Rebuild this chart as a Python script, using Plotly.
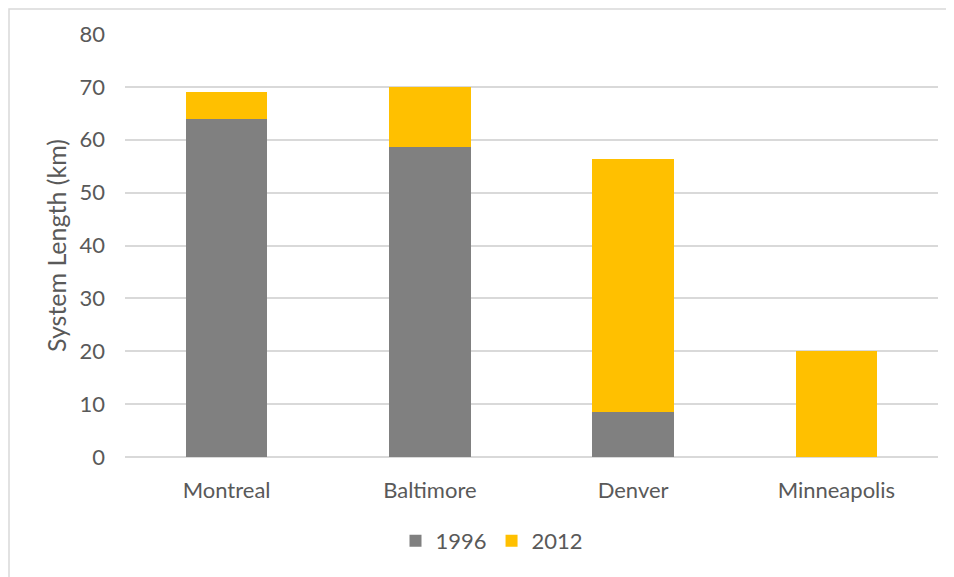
import plotly.graph_objects as go

# data
cities = ["Montreal", "Baltimore", "Denver", "Minneapolis"]
len_1996 = [64, 58.6, 8.5, 0]
len_2012_added = [5, 11.4, 47.8, 20]

# the page body adds an 8px offset, so the figure is sized to fit inside it
OFF = 8
W, H = 946, 569
L, R, T, B = 117, 16, 26, 120
pw = W - L - R
ph = H - T - B

def px_x(x):
    # screen pixel -> paper coordinate
    return (x - OFF - L) / pw

def px_y(y):
    return (H - B - (y - OFF)) / ph

fig = go.Figure()
fig.add_trace(go.Bar(x=cities, y=len_1996, name="1996",
                     marker=dict(color="#808080", line=dict(width=0))))
fig.add_trace(go.Bar(x=cities, y=len_2012_added, name="2012",
                     marker=dict(color="#FFC000", line=dict(width=0))))

# light chart-area border, as in the original
fig.add_shape(type="rect", xref="paper", yref="paper",
              x0=px_x(9), x1=px_x(948), y0=px_y(600), y1=px_y(9),
              line=dict(color="#D9D9D9", width=1.5), fillcolor="rgba(0,0,0,0)",
              layer="below")

fs = 22
fig.update_layout(
    width=W, height=H,
    margin=dict(l=L, r=R, t=T, b=B),
    barmode="stack",
    bargap=0.6,
    plot_bgcolor="white",
    paper_bgcolor="white",
    font=dict(family="Lato, Calibri, sans-serif", size=fs, color="#595959"),
    showlegend=True,
    legend=dict(orientation="h", x=px_x(492), xanchor="center", y=px_y(541), yanchor="middle",
                font=dict(size=fs, color="#595959"), traceorder="normal"),
    xaxis=dict(showgrid=False, showline=False, ticks="", ticklabelstandoff=18,
               tickfont=dict(size=fs, color="#595959")),
    yaxis=dict(range=[0, 80], dtick=10, showgrid=True, gridcolor="#D9D9D9", gridwidth=1.5,
               zeroline=True, zerolinecolor="#D9D9D9", zerolinewidth=1.5,
               showline=False, ticks="", ticklabelstandoff=19,
               tickfont=dict(size=fs, color="#595959"),
               title=dict(text="System Length (km)", standoff=5,
                          font=dict(size=25, color="#595959"))),
)

fig.write_html("out.html")
